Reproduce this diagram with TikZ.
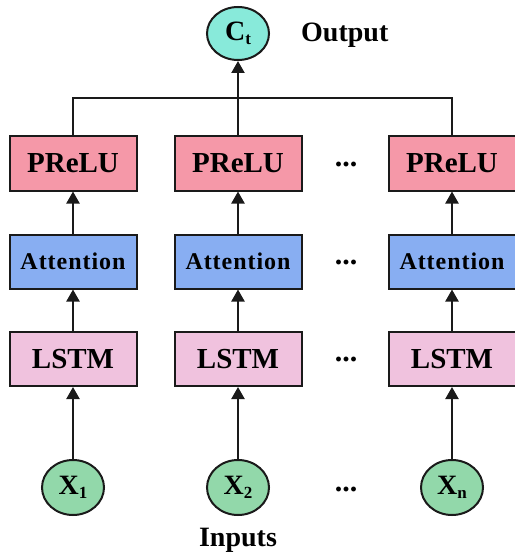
\documentclass[tikz,border=0pt]{standalone}
\usepackage{fontspec}
\setmainfont{Liberation Serif}
\usetikzlibrary{shapes.geometric,arrows.meta}
\definecolor{prelucol}{HTML}{F598A8}
\definecolor{attcol}{HTML}{88AEF2}
\definecolor{lstmcol}{HTML}{F0C2DE}
\definecolor{incol}{HTML}{92D8AA}
\definecolor{outcol}{HTML}{88EADA}
\definecolor{edgecol}{HTML}{1A1A1A}
\newcommand{\subtxt}[2]{#1\raisebox{-4pt}{\fontsize{17}{17}\selectfont #2}}
\begin{document}
\begin{tikzpicture}[x=1pt,y=-1pt,
  blockbox/.style={draw=edgecol,line width=2pt,minimum width=127pt,minimum height=54pt,inner sep=0pt,font=\fontsize{29}{29}\selectfont\bfseries},
  prelubox/.style={blockbox,fill=prelucol},
  attbox/.style={blockbox,fill=attcol,font=\fontsize{24}{24}\selectfont\bfseries\addfontfeatures{LetterSpace=4}},
  lstmbox/.style={blockbox,fill=lstmcol},
  inoval/.style={ellipse,draw=edgecol,line width=2pt,fill=incol,minimum width=62pt,minimum height=55pt,inner sep=0pt,font=\fontsize{28}{28}\selectfont\bfseries},
  outoval/.style={ellipse,draw=edgecol,line width=2pt,fill=outcol,minimum width=62pt,minimum height=53pt,inner sep=0pt,font=\fontsize{28}{28}\selectfont\bfseries},
  lbl/.style={font=\fontsize{28}{28}\selectfont\bfseries,inner sep=0pt},
  dotlbl/.style={font=\fontsize{30}{30}\selectfont\bfseries,inner sep=0pt},
  arr/.style={draw=edgecol,line width=2.2pt,-{Triangle[length=12pt,width=13pt]}},
  wire/.style={draw=edgecol,line width=1.6pt}
]
\useasboundingbox (0,0) rectangle (514,556);
% columns
\foreach \i/\xx in {1/73,2/238,3/452}{
  \node[prelubox] (p\i) at (\xx,163.5) {PReLU};
  \node[attbox] (a\i) at (\xx,261.5) {Attention};
  \node[lstmbox] (l\i) at (\xx,359) {LSTM};
}
\node[inoval] (x1) at (73,487.5) {\subtxt{X}{1}};
\node[inoval] (x2) at (238,487.5) {\subtxt{X}{2}};
\node[inoval] (x3) at (452,487.5) {\subtxt{X}{n}};
\node[outoval] (ct) at (238,33.5) {\subtxt{C}{t}};
\node[lbl,anchor=west] (outl) at (301,35) {Output};
\node[lbl] (inl) at (238,540) {Inputs};
% dots
\node[dotlbl] (d1) at (346,164) {...};
\node[dotlbl] (d2) at (346,262) {...};
\node[dotlbl] (d3) at (346,359) {...};
\node[dotlbl] (d4) at (346,489) {...};
% connectors
\foreach \i in {1,2}{
  \draw[arr] (x\i.north) -- (l\i.south);
  \draw[arr] (l\i.north) -- (a\i.south);
  \draw[arr] (a\i.north) -- (p\i.south);
}
\draw[arr] (x3.north) -- (l3.south);
\draw[arr] (l3.north) -- (a3.south);
\draw[arr] (a3.north) -- (p3.south);
\coordinate (jl) at (73,98);
\coordinate (jm) at (238,98);
\coordinate (jr) at (452,98);
\draw[wire] (p1.north) -- (jl) -- (jr) -- (p3.north);
\draw[arr] (p2.north) -- (ct.south);
\end{tikzpicture}
\end{document}
